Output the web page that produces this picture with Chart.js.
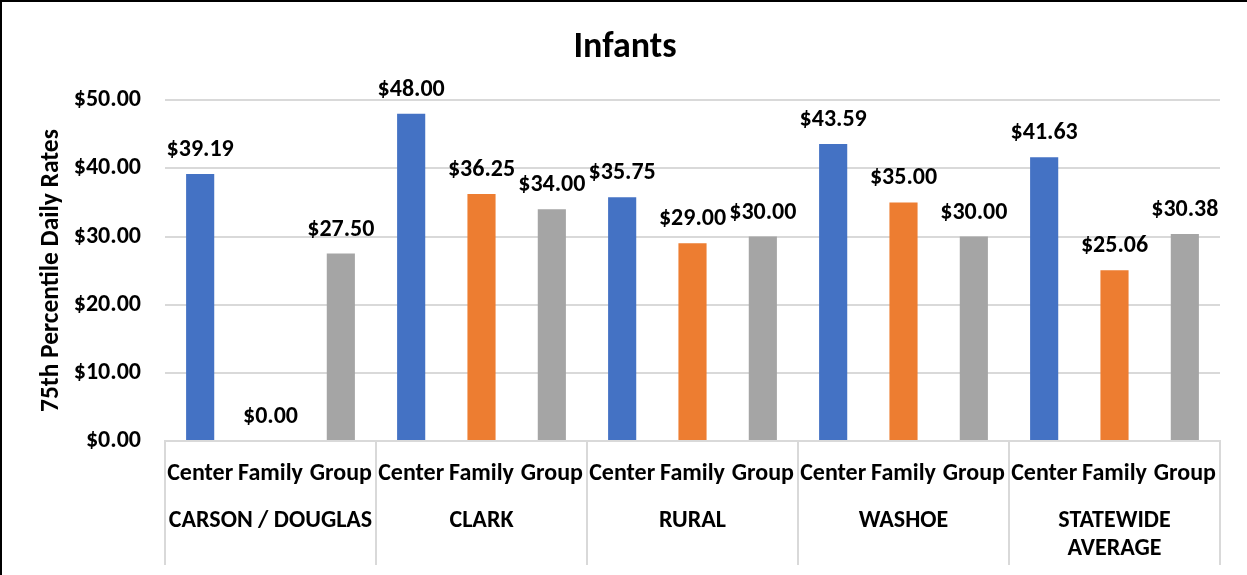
<!DOCTYPE html>
<html>
<head>
<meta charset="utf-8">
<script src="https://cdn.jsdelivr.net/npm/chart.js@4/dist/chart.umd.min.js"></script>
<style>
  html, body { margin: 0; padding: 0; background: #fff; overflow: hidden; }
  #wrap {
    width: 1245px;
    height: 573px;
    border-left: 2px solid #000;
    border-top: 2px solid #000;
    position: relative;
  }
</style>
</head>
<body>
<div id="wrap"><canvas id="chart"></canvas></div>
<script>
const regions = ['CARSON / DOUGLAS', 'CLARK', 'RURAL', 'WASHOE', ['STATEWIDE', 'AVERAGE']]
const careTypes = ['Center', 'Family', 'Group']
const subLabels = [
  'Center', 'Family', 'Group',
  'Center', 'Family', 'Group',
  'Center', 'Family', 'Group',
  'Center', 'Family', 'Group',
  'Center', 'Family', 'Group',
]
const centerRates = [39.19, 48.00, 35.75, 43.59, 41.63]
const familyRates = [0.00, 36.25, 29.00, 35.00, 25.06]
const groupRates = [27.50, 34.00, 30.00, 30.00, 30.38]
const yTicks = [0, 10, 20, 30, 40, 50]

const FONT = 'Carlito, Calibri, Lato, sans-serif'
const GRID = '#d9d9d9'

// dollar labels above each bar
const valueLabels = {
  id: 'valueLabels',
  afterDatasetsDraw(chart) {
    const ctx = chart.ctx
    ctx.save()
    ctx.font = 'bold 24px ' + FONT
    ctx.fillStyle = '#000'
    ctx.textAlign = 'center'
    ctx.textBaseline = 'middle'
    chart.data.datasets.forEach((ds, i) => {
      chart.getDatasetMeta(i).data.forEach((bar, j) => {
        ctx.fillText('$' + ds.data[j].toFixed(2), bar.x, bar.y - 24)
      })
    })
    ctx.restore()
  },
}

// vertical separators between region groups, spanning both label rows
const groupLines = {
  id: 'groupLines',
  afterDraw(chart) {
    const x = chart.scales.x
    const ctx = chart.ctx
    const step = (x.right - x.left) / regions.length
    ctx.save()
    ctx.strokeStyle = GRID
    ctx.lineWidth = 2
    ctx.beginPath()
    for (let i = 0; i <= regions.length; i++) {
      const px = Math.round(x.left + i * step)
      ctx.moveTo(px, chart.chartArea.bottom)
      ctx.lineTo(px, x.bottom)
    }
    ctx.stroke()
    ctx.restore()
  },
}

const makeSet = (label, data, color) => ({
  label,
  data,
  backgroundColor: color,
  borderWidth: 0,
  categoryPercentage: 1.0,
  barPercentage: 0.4,
  xAxisID: 'x',
})

const chart = new Chart(document.getElementById('chart').getContext('2d'), {
  type: 'bar',
  data: {
    labels: regions,
    datasets: [
      makeSet(careTypes[0], centerRates, '#4472C4'),
      makeSet(careTypes[1], familyRates, '#ED7D31'),
      makeSet(careTypes[2], groupRates, '#A5A5A5'),
    ],
  },
  options: {
    responsive: true,
    maintainAspectRatio: false,
    animation: false,
    layout: {
      padding: { left: 28, right: 27, top: 0, bottom: 10 },
    },
    plugins: {
      legend: { display: false },
      tooltip: { enabled: false },
      title: {
        display: true,
        text: 'Infants',
        color: '#000',
        font: { family: FONT, size: 36, weight: 'bold', lineHeight: 1.2 },
        padding: { top: 24, bottom: 31 },
      },
    },
    scales: {
      xSub: {
        type: 'category',
        position: 'bottom',
        labels: subLabels,
        offset: true,
        weight: 0,
        afterFit(scale) {
          scale.height = 47
        },
        grid: { display: false, drawTicks: false },
        border: { display: true, color: GRID, width: 2 },
        ticks: {
          autoSkip: false,
          maxRotation: 0,
          minRotation: 0,
          padding: 19,
          color: '#000',
          font: { family: FONT, size: 24, weight: 'bold', lineHeight: 1.2 },
        },
      },
      x: {
        type: 'category',
        position: 'bottom',
        offset: true,
        weight: 1,
        afterFit(scale) {
          scale.height = 77
        },
        grid: { display: false, drawTicks: false },
        border: { display: false },
        ticks: {
          autoSkip: false,
          maxRotation: 0,
          minRotation: 0,
          padding: 19,
          color: '#000',
          font: { family: FONT, size: 24, weight: 'bold', lineHeight: 1.17 },
        },
      },
      y: {
        min: 0,
        max: 50,
        afterFit(scale) {
          scale.width = 135
        },
        afterBuildTicks(scale) {
          scale.ticks = yTicks.map(v => ({ value: v }))
        },
        grid: { color: GRID, lineWidth: 2, drawTicks: false },
        border: { display: false },
        ticks: {
          padding: 24,
          color: '#000',
          font: { family: FONT, size: 24, weight: 'bold' },
          callback: v => '$' + Number(v).toFixed(2),
        },
        title: {
          display: true,
          text: '75th Percentile Daily Rates',
          color: '#000',
          font: { family: FONT, size: 25.5, weight: 'bold', lineHeight: 1.2 },
          padding: { top: 6, bottom: 0 },
        },
      },
    },
  },
  plugins: [valueLabels, groupLines],
})
</script>
</body>
</html>
